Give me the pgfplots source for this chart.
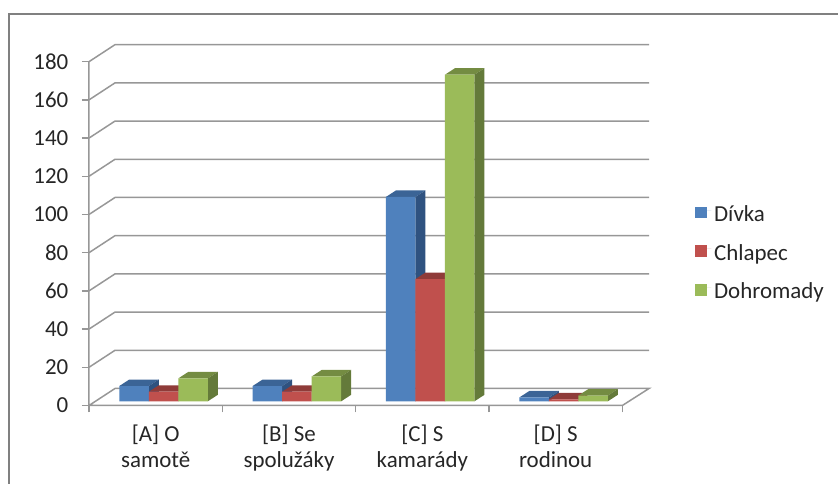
\documentclass[border=0pt]{standalone}
\usepackage{fontspec}
\setmainfont{Carlito}
\usepackage{pgfplots}
\pgfplotsset{compat=1.18}

\definecolor{blueF}{HTML}{4F81BD}
\definecolor{blueT}{HTML}{3B6496}
\definecolor{blueS}{HTML}{2F5280}
\definecolor{redF}{HTML}{C0504D}
\definecolor{redT}{HTML}{8F3B39}
\definecolor{redS}{HTML}{7B3331}
\definecolor{greenF}{HTML}{9BBB59}
\definecolor{greenT}{HTML}{748C42}
\definecolor{greenS}{HTML}{647A3A}
\definecolor{gridc}{HTML}{979797}
\definecolor{txt}{HTML}{262626}

\def\px{0.75pt}
\def\bw{0.2213}

% wall lines: front edge up to the back wall, then along it
\newcommand{\wall}[1]{%
  \pgfmathsetmacro\yb{#1+8.9}
  \addplot[forget plot, gridc, line width=1.5*\px] coordinates {(-0.5,#1) (-0.305,\yb) (3.7,\yb)};
}
% top and side face of one bar: centre x, value, colours
\newcommand{\depth}[4]{%
  \pgfmathsetmacro\xl{#1-\bw/2}
  \pgfmathsetmacro\xr{#1+\bw/2}
  \pgfmathsetmacro\xlb{\xl+0.075}
  \pgfmathsetmacro\xrb{\xr+0.075}
  \pgfmathsetmacro\yb{#2+3.4}
  \addplot[forget plot, bars3d, fill=#3, draw=none] coordinates {(\xl,#2) (\xr,#2) (\xrb,\yb) (\xlb,\yb)} --cycle;
  \addplot[forget plot, bars3d, fill=#4, draw=none] coordinates {(\xr,0) (\xrb,3.4) (\xrb,\yb) (\xr,#2)} --cycle;
}

\begin{document}
\begin{tikzpicture}[font=\fontsize{17.2}{19.5}\selectfont, text=txt]
  \path[use as bounding box] (0,0) rectangle (838*\px,484*\px);
  \draw[gridc!85!black, line width=2*\px] (9*\px,0) -- (9*\px,470*\px) -- (838*\px,470*\px);
  \begin{axis}[
    at={(89*\px,78.5*\px)}, anchor=south west,
    scale only axis, width=560*\px, height=361*\px,
    xmin=-0.5, xmax=3.7, ymin=0, ymax=189,
    clip=false,
    axis line style={draw=none},
    xtick={-0.5,0.5,1.5,2.5,3.5},
    x tick label as interval,
    xticklabels={{[A] O\\samotě},{[B] Se\\spolužáky},{[C] S\\kamarády},{[D] S\\rodinou}},
    ytick={0,20,...,180},
    xtick pos=bottom, ytick pos=left,
    tick align=outside,
    major tick length=5.25pt,
    tick style={gridc, line width=1.5*\px},
    /pgf/number format/assume math mode=true,
    xticklabel style={align=center, yshift=-8*\px, text=txt},
    yticklabel style={xshift=-9*\px, text=txt},
    bars3d/.style={xshift=7.9*\px, yshift=4.2*\px},
    legend style={at={(1.0825,0.422)}, anchor=west, draw=none, fill=none,
      row sep=15.6*\px, inner sep=0pt, nodes={text=txt}},
    legend cell align=left,
    legend image code/.code={\fill[#1] (0,-8*\px) rectangle (11.5*\px,3.5*\px);
      \path (0,0) -- (16*\px,0);},
  ]
    \wall{20}\wall{40}\wall{60}\wall{80}\wall{100}\wall{120}\wall{140}\wall{160}\wall{180}
    \addplot[forget plot, gridc, line width=1.5*\px] coordinates {(-0.5,180) (-0.5,0) (3.5,0) (3.7,8.9) (-0.305,8.9) (-0.5,0)};

    \depth{-0.2213}{8}{blueT}{blueS}
    \depth{0.7787}{8}{blueT}{blueS}
    \depth{1.7787}{107}{blueT}{blueS}
    \depth{2.7787}{2}{blueT}{blueS}
    \addplot[ybar, bars3d, bar width=\bw, bar shift=-\bw, fill=blueF, draw=none]
      coordinates {(0,8) (1,8) (2,107) (3,2)};
    \addlegendentry{Dívka}

    \depth{0}{5}{redT}{redS}
    \depth{1}{5}{redT}{redS}
    \depth{2}{64}{redT}{redS}
    \depth{3}{1}{redT}{redS}
    \addplot[ybar, bars3d, bar width=\bw, bar shift=0, fill=redF, draw=none]
      coordinates {(0,5) (1,5) (2,64) (3,1)};
    \addlegendentry{Chlapec}

    \depth{0.2213}{12}{greenT}{greenS}
    \depth{1.2213}{13}{greenT}{greenS}
    \depth{2.2213}{171}{greenT}{greenS}
    \depth{3.2213}{3}{greenT}{greenS}
    \addplot[ybar, bars3d, bar width=\bw, bar shift=\bw, fill=greenF, draw=none]
      coordinates {(0,12) (1,13) (2,171) (3,3)};
    \addlegendentry{Dohromady}
  \end{axis}
\end{tikzpicture}
\end{document}
